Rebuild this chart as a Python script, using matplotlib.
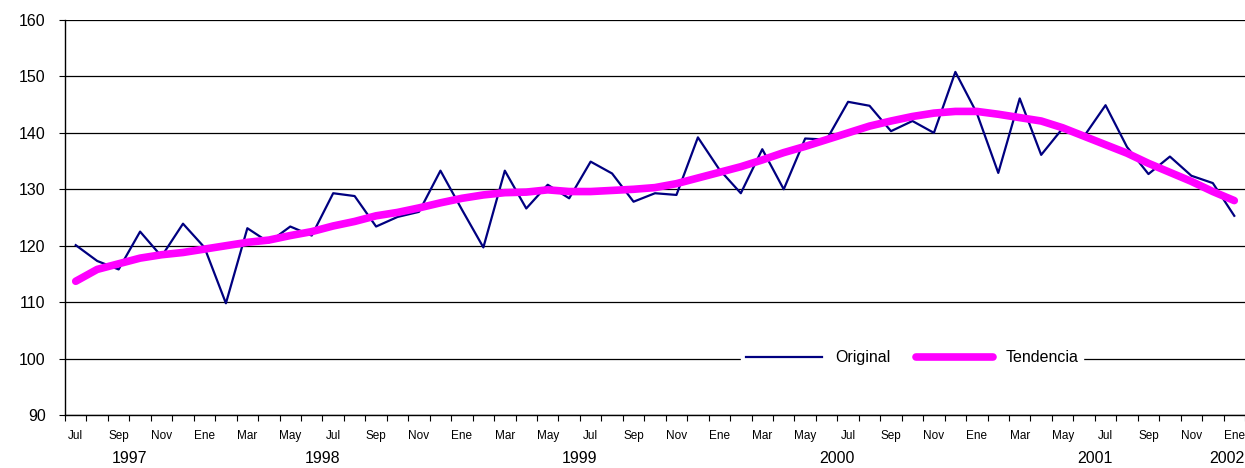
import numpy as np
import matplotlib.pyplot as plt
from matplotlib.ticker import MultipleLocator, FixedLocator

plt.rcParams['font.family'] = ['Liberation Sans', 'DejaVu Sans']

# =================== Data ===================
months = ['Jul', 'Ago', 'Sep', 'Oct', 'Nov', 'Dic',
          'Ene', 'Feb', 'Mar', 'Abr', 'May', 'Jun']
years = ['1997', '1998', '1999', '2000', '2001', '2002']

original = [120.1, 117.3, 115.8, 122.5, 118.1, 123.9,
            119.7, 109.8, 123.1, 120.6, 123.4, 121.8,
            129.3, 128.8, 123.4, 125.1, 126.0, 133.3,
            126.4, 119.7, 133.3, 126.6, 130.8, 128.4,
            134.9, 132.8, 127.8, 129.3, 129.0, 139.2,
            133.5, 129.3, 137.1, 130.0, 139.0, 138.8,
            145.5, 144.8, 140.3, 142.1, 140.0, 150.8,
            143.5, 132.9, 146.1, 136.1, 140.8, 139.4,
            144.9, 137.5, 132.7, 135.8, 132.4, 131.1,
            125.3]

tendencia = [113.7, 115.8, 116.8, 117.8, 118.4, 118.8,
             119.4, 120.0, 120.6, 121.0, 121.8, 122.5,
             123.5, 124.3, 125.3, 125.9, 126.7, 127.6,
             128.4, 129.0, 129.4, 129.5, 129.9, 129.6,
             129.6, 129.8, 130.0, 130.3, 131.0, 132.0,
             133.0, 134.0, 135.2, 136.5, 137.6, 138.8,
             140.0, 141.2, 142.1, 142.9, 143.5, 143.8,
             143.8, 143.3, 142.7, 142.1, 140.9, 139.4,
             137.9, 136.4, 134.6, 133.0, 131.4, 129.6,
             128.0]

n = len(original)
x = np.arange(n)
month_labels = [months[i % 12] for i in range(n)]

# =================== Plot ===================
fig = plt.figure(figsize=(12.45, 4.68), dpi=100)
ax = fig.add_axes([65 / 1245, 1 - 415 / 468, 1 - 65 / 1245, (415 - 20) / 468])

ax.plot(x, original, color='#000080', lw=1.6, label='Original', zorder=3)
ax.plot(x, tendencia, color='#FF00FF', lw=5.5, solid_capstyle='round',
        label='Tendencia', zorder=4)

ax.set_xlim(-0.5, n - 0.5)
ax.set_ylim(90, 160)
ax.yaxis.set_major_locator(MultipleLocator(10))
ax.grid(axis='y', color='black', lw=0.9)
ax.set_axisbelow(True)

for s in ['top', 'right']:
    ax.spines[s].set_visible(False)
ax.spines['left'].set_linewidth(1.0)
ax.spines['bottom'].set_linewidth(1.0)

ax.tick_params(axis='y', labelsize=11.5, length=4, width=0.8, pad=10)

# month ticks at category edges, labels every 2 months
ax.xaxis.set_major_locator(FixedLocator(np.arange(-0.5, n, 1.0)))
ax.set_xticklabels([])
ax.tick_params(axis='x', length=4, width=0.8)
ax.xaxis.set_minor_locator(FixedLocator(x[::2]))
ax.set_xticklabels([month_labels[i] for i in range(0, n, 2)], minor=True)
ax.tick_params(axis='x', which='minor', length=0, labelsize=8.5, pad=11)

# year labels under the months
first = 0
for k, yr in enumerate(years):
    if k == len(years) - 1:
        ax.text(1.0, -0.11, yr, transform=ax.transAxes,
                ha='right', va='center', fontsize=11.5)
        break
    last = first + (6 if k == 0 else 12) - 1
    ax.text((first + last) / 2, -0.11, yr, transform=ax.get_xaxis_transform(),
            ha='center', va='center', fontsize=11.5)
    first = last + 1

leg = ax.legend(loc='center', bbox_to_anchor=((912 - 65) / 1180, (415 - 358) / 395),
                ncol=2, frameon=True, fontsize=11.5, handlelength=4.8,
                columnspacing=1.6, borderpad=0.3)
leg.get_frame().set_edgecolor('white')
leg.get_frame().set_facecolor('white')
leg.get_frame().set_alpha(1)

plt.savefig('out.png', dpi=100)
